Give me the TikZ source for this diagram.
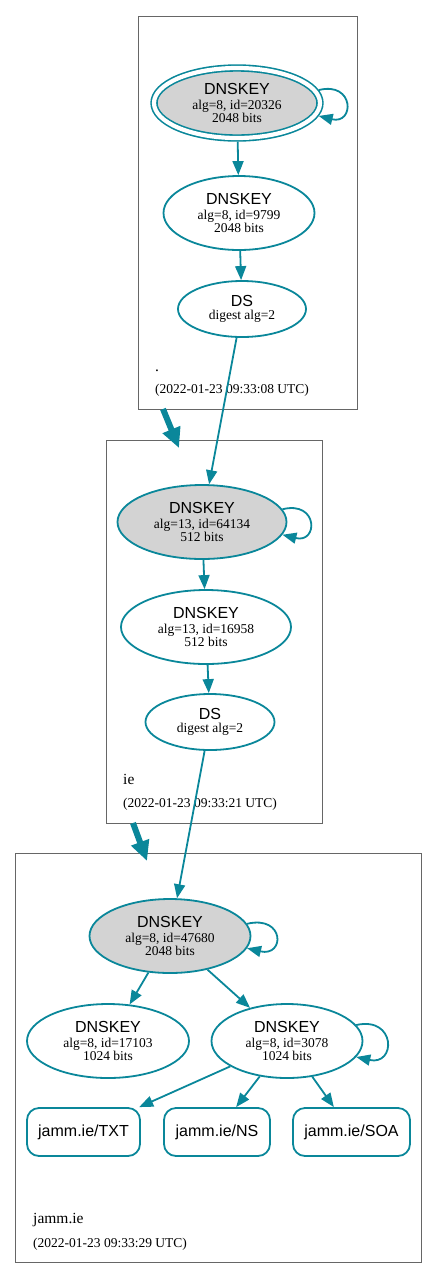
\documentclass[tikz,border=0pt]{standalone}
\usepackage{fontspec}
\setmainfont{Liberation Serif}
\newfontfamily\hv{Liberation Sans}
\usetikzlibrary{arrows.meta,shapes.geometric}
\definecolor{sec}{HTML}{0A879A}
\definecolor{zonegray}{HTML}{666666}
\definecolor{keyfill}{HTML}{D3D3D3}
\newcommand\keylbl[2]{{\hv\fontsize{16}{16}\selectfont DNSKEY}\\[1.5pt]#1\\#2}
\newcommand\dslbl{{\hv\fontsize{16}{16}\selectfont DS}\\[0.5pt]digest alg=2}
\tikzset{
 kn/.style={ellipse, draw=sec, line width=1.8pt, inner sep=0pt, align=center,
   font=\fontsize{13.5}{12.8}\selectfont},
 ksep/.style={kn, fill=keyfill},
 rr/.style={rectangle, rounded corners=12pt, draw=sec, line width=1.8pt,
   minimum height=48pt, inner sep=0pt, font=\hv\fontsize{16}{16}\selectfont},
 e/.style={draw=sec, line width=1.8pt, -{Triangle[length=14pt,width=11pt]}},
 big/.style={draw=sec, line width=6pt, -{Triangle[length=20pt,width=18pt]}},
 zone/.style={draw=zonegray, line width=0.9pt},
 lab/.style={anchor=base west, inner sep=0pt, font=\fontsize{15.5}{16}\selectfont},
 ts/.style={anchor=base west, inner sep=0pt, font=\fontsize{13.5}{14}\selectfont},
}
\begin{document}
\begin{tikzpicture}[x=1pt,y=-1pt]
\useasboundingbox (0,0) rectangle (437,1278);
% zones
\draw[zone] (138,16) rectangle (357,409);
\draw[zone] (106,440) rectangle (322,823);
\draw[zone] (15,853) rectangle (421,1262);
% zone labels
\node[lab] (l1) at (155,371) {.};
\node[ts] (t1) at (155,393) {(2022-01-23 09:33:08 UTC)};
\node[lab] (l2) at (123,784) {ie};
\node[ts] (t2) at (123,807) {(2022-01-23 09:33:21 UTC)};
\node[lab] (l3) at (33,1223) {jamm.ie};
\node[ts] (t3) at (33,1247) {(2022-01-23 09:33:29 UTC)};
% root zone
\node[ksep, minimum width=166pt, minimum height=70pt, line width=1.6pt, double=white,
  double distance=4.2pt, outer sep=3.7pt] (r1) at (237,103) {\keylbl{alg=8, id=20326}{2048 bits}};
\node[kn, minimum width=151pt, minimum height=74pt] (k1) at (239,213) {\keylbl{alg=8, id=9799}{2048 bits}};
\node[kn, minimum width=128pt, minimum height=56pt] (ds1) at (242,309) {\dslbl};
% ie zone
\node[ksep, minimum width=169pt, minimum height=74pt] (z2k) at (202,522) {\keylbl{alg=13, id=64134}{512 bits}};
\node[kn, minimum width=170pt, minimum height=74pt] (z2z) at (206,627) {\keylbl{alg=13, id=16958}{512 bits}};
\node[kn, minimum width=129pt, minimum height=56pt] (ds2) at (210,722) {\dslbl};
% jamm.ie zone
\node[ksep, minimum width=161pt, minimum height=74pt] (k3) at (170,936) {\keylbl{alg=8, id=47680}{2048 bits}};
\node[kn, minimum width=162pt, minimum height=74pt] (k4) at (108,1041) {\keylbl{alg=8, id=17103}{1024 bits}};
\node[kn, minimum width=151pt, minimum height=74pt] (k5) at (287,1041) {\keylbl{alg=8, id=3078}{1024 bits}};
\node[rr, minimum width=113pt] (txt) at (83.5,1132) {jamm.ie/TXT};
\node[rr, minimum width=106pt] (ns) at (217,1132) {jamm.ie/NS};
\node[rr, minimum width=117pt] (soa) at (351.5,1132) {jamm.ie/SOA};
% edges
\draw[e] (r1.9) .. controls +(36,-9) and +(36,9) .. (r1.-9);
\draw[e] (r1) -- (k1);
\draw[e] (k1) -- (ds1);
\draw[e] (ds1) -- (z2k);
\draw[e] (z2k.9) .. controls +(36,-9) and +(36,9) .. (z2k.-9);
\draw[e] (z2k) -- (z2z);
\draw[e] (z2z) -- (ds2);
\draw[e] (ds2) -- (k3);
\draw[e] (k3.9) .. controls +(38,-9) and +(38,9) .. (k3.-9);
\draw[e] (k3) -- (k4);
\draw[e] (k3) -- (k5);
\draw[e] (k5.13) .. controls +(40,-9) and +(40,9) .. (k5.-13);
\draw[e] (k5) -- (txt);
\draw[e] (k5) -- (ns);
\draw[e] (k5) -- (soa);
% zone delegation arrows
\coordinate (a1) at (163,409);
\coordinate (a2) at (179,448);
\coordinate (b1) at (133,823);
\coordinate (b2) at (147,861);
\draw[big] (a1) -- (a2);
\draw[big] (b1) -- (b2);
\end{tikzpicture}
\end{document}
